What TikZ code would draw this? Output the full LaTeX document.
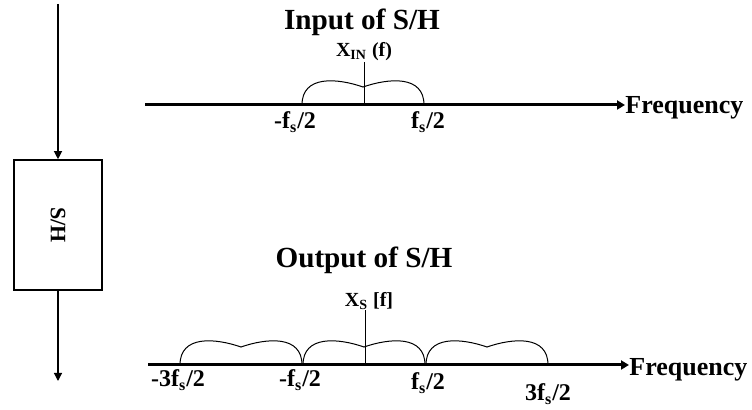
\documentclass[tikz,border=0pt]{standalone}
\usepackage{fontspec}
\setmainfont{Liberation Serif}
\usepackage{graphicx}
\usetikzlibrary{arrows.meta, positioning, calc}

\begin{document}
\begin{tikzpicture}[
    x=0.5pt, y=-0.5pt,
    >={Triangle[length=4pt,width=4pt]},
    lbl/.style={font=\fontsize{12}{14}\selectfont\bfseries, inner sep=0pt},
    ttl/.style={font=\fontsize{14.6}{16}\selectfont\bfseries, inner sep=0pt},
    freq/.style={font=\fontsize{13}{15}\selectfont\bfseries, inner sep=0pt, anchor=west},
    sig/.style={font=\fontsize{10}{12}\selectfont\bfseries, inner sep=0pt},
    axis/.style={line width=1.5pt, -{Triangle[length=4pt,width=4.5pt]}},
    spec/.style={line width=0.5pt},
    shbox/.style={draw, line width=0.8pt, minimum width=44pt, minimum height=65pt, inner sep=0pt, font=\fontsize{11}{13}\selectfont\bfseries},
]
\useasboundingbox (0,0) rectangle (752,410);

% sample and hold block
\coordinate (in) at (58,4);
\node[shbox] (sh) at (58,225) {\rotatebox{-90}{S/H}};
\coordinate (out) at (58,381);
\draw[->, line width=0.6pt] (in) -- (sh.north);
\draw[->, line width=0.6pt] (sh.south) -- (out);

% input spectrum
\node[ttl] (ttlin) at (362,22) {Input of S/H};
\node[sig] (xin) at (364,52) {X\textsubscript{IN} (f)};
\coordinate (ax1) at (145,105);
\coordinate (o1) at (364,105);
\node[freq] (freq1) at (625,108) {Frequency};
\draw[axis] (ax1) -- (ax1 -| freq1.west);
\draw[spec] (o1) -- (o1 |- xin.south);
\foreach \a in {302}
  \draw[spec] (\a,105) .. controls (\a,75) and (\a+35,78) .. (\a+61,87)
                       .. controls (\a+87,78) and (\a+122,75) .. (\a+122,105);
\node[lbl] (m1) at (295,122) {-f\textsubscript{s}/2};
\node[lbl] (p1) at (428,122) {f\textsubscript{s}/2};

% output spectrum
\node[ttl] (ttlout) at (364,260) {Output of S/H};
\node[sig] (xs) at (369,301) {X\textsubscript{S} [f]};
\coordinate (ax2) at (148,365);
\coordinate (o2) at (365,365);
\node[freq] (freq2) at (629,370) {Frequency};
\draw[axis] (ax2) -- (ax2 -| freq2.west);
\draw[spec] (o2) -- (o2 |- xs.south);
\foreach \a in {180,303,426}
  \draw[spec] (\a,365) .. controls (\a,335) and (\a+35,338) .. (\a+61,347)
                       .. controls (\a+87,338) and (\a+122,335) .. (\a+122,365);
\node[lbl] (m3) at (178,380) {-3f\textsubscript{s}/2};
\node[lbl] (m2) at (300,380) {-f\textsubscript{s}/2};
\node[lbl] (p2) at (428,383) {f\textsubscript{s}/2};
\node[lbl] (p3) at (548,394) {3f\textsubscript{s}/2};
\end{tikzpicture}
\end{document}
